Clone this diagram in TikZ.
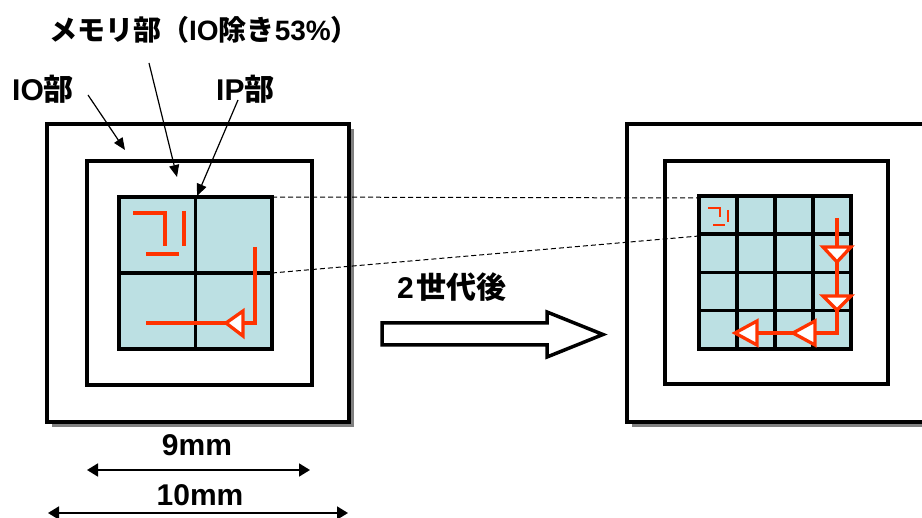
\documentclass[tikz,border=0pt]{standalone}
\usepackage{fontspec}
\setmainfont{Liberation Sans}
\newfontfamily\jpf{Noto Sans CJK JP Bold}
\usetikzlibrary{arrows.meta}
\definecolor{chipc}{HTML}{BCE0E3}
\definecolor{redc}{HTML}{FF3300}
\definecolor{shadowc}{HTML}{808080}
\tikzset{
  box/.style={line width=4pt, draw=black, fill=white},
  chipbox/.style={line width=3.5pt, draw=black, fill=chipc},
  gridline/.style={line width=3.5pt, draw=black},
  lbl/.style={font=\bfseries\fontsize{28}{32}\selectfont, inner sep=0pt},
  bigl/.style={lbl, font=\bfseries\fontsize{30}{34}\selectfont},
  ptr/.style={line width=1.2pt, -{Triangle[length=12pt,width=10pt]}},
  dim/.style={line width=1.8pt, {Triangle[length=11pt,width=13pt]}-{Triangle[length=11pt,width=13pt]}},
  dashc/.style={line width=1pt, dash pattern=on 5pt off 3pt},
  redline/.style={line width=3.3pt, draw=redc},
  redthin/.style={line width=2.2pt, draw=redc},
  tri/.style={line width=3.3pt, draw=redc, fill=white, line join=miter},
}
\begin{document}
\begin{tikzpicture}[x=1pt,y=-1pt]
\useasboundingbox (0,0) rectangle (922,518);
\clip (0,0) rectangle (922,518);
% ---------- left chip ----------
\fill[shadowc] (52,129) rectangle (354,427);
\draw[box] (47,124) rectangle (349,422);
\draw[box] (87,161) rectangle (312,385);
\draw[chipbox] (119,197) rectangle (272,349);
\coordinate (lTR) at (272,197);
\coordinate (lMR) at (272,273);
\draw[gridline] (195.5,197) -- (195.5,349);
\draw[gridline] (119,273) -- (272,273);
% red glyph
\draw[redline] (133,213) -- (165,213) -- (165,246);
\draw[redline] (184,211) -- (184,246);
\draw[redline] (146,254) -- (179,254);
% red path with arrow
\draw[redline, line join=miter] (255,247) -- (255,323) -- (146,323);
\draw[tri] (226,323) -- (243,311) -- (243,336) -- cycle;
% ---------- right chip ----------
\fill[shadowc] (632,129) rectangle (940,427);
\draw[box] (627,124) rectangle (935,422);
\draw[box] (665,161) rectangle (888,384);
\draw[chipbox] (699,196) rectangle (851,349);
\coordinate (rA) at (699,198);
\coordinate (rB) at (699,236);
\foreach \x in {737,775,813} \draw[gridline] (\x,196) -- (\x,349);
\foreach \y in {234.25,272.5,310.75} \draw[gridline] (699,\y) -- (851,\y);
% small red glyph
\draw[redthin] (708,208) -- (720,208) -- (720,217);
\draw[redthin] (728,210) -- (728,222);
\draw[redthin] (713,225) -- (725,225);
% red path
\draw[redline, line join=miter] (837,218) -- (837,333) -- (735,333);
\draw[tri] (837,262) -- (823,247) -- (851,247) -- cycle;
\draw[tri] (837,310) -- (823,296) -- (851,296) -- cycle;
\draw[tri] (793,333) -- (815,321) -- (815,345) -- cycle;
\draw[tri] (735,333) -- (757,321) -- (757,345) -- cycle;
% ---------- dashed connectors ----------
\draw[dashc] (lTR) -- (rA);
\draw[dashc] (lMR) -- (rB);
% ---------- big arrow ----------
\draw[line width=3.5pt, fill=white, line join=miter] (382,323) -- (547,323) -- (547,312) -- (603,334.5) -- (547,357) -- (547,345) -- (382,345) -- cycle;
\node[bigl, anchor=west] (gen) at (397,287) {2\kern3pt{\jpf 世代後}};
% ---------- labels ----------
\node[lbl, anchor=west] (mem) at (49,30) {{\jpf メモリ部（}IO{\jpf 除き}53\%{\jpf ）}};
\node[bigl, anchor=west] (io) at (12,89) {IO{\jpf 部}};
\node[bigl, anchor=west] (ip) at (216,89) {IP{\jpf 部}};
\coordinate (ioS) at (88,95);   \coordinate (ioE) at (125,150);
\coordinate (memS) at (149,63); \coordinate (memE) at (177,177);
\coordinate (ipS) at (238,100); \coordinate (ipE) at (197,196);
\draw[ptr] (ioS) -- (ioE);
\draw[ptr] (memS) -- (memE);
\draw[ptr] (ipS) -- (ipE);
% ---------- dimensions ----------
\node[bigl] (d9) at (197,445) {9mm};
\node[bigl] (d10) at (200,495) {10mm};
\coordinate (d9L) at (87,470);  \coordinate (d9R) at (310,470);
\coordinate (d10L) at (48,513); \coordinate (d10R) at (348,513);
\draw[dim] (d9L) -- (d9R);
\draw[dim] (d10L) -- (d10R);
\end{tikzpicture}
\end{document}
